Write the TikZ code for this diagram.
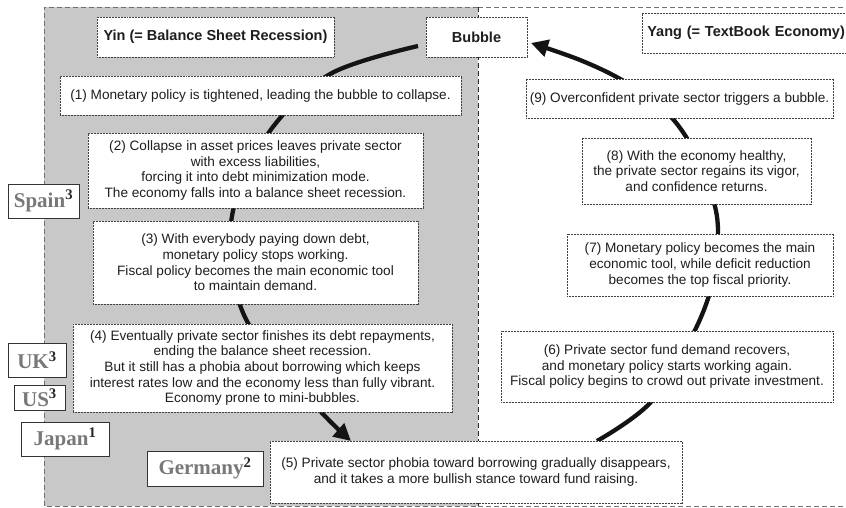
\documentclass[tikz,border=0pt]{standalone}
\usepackage{fontspec}
\setmainfont{Liberation Sans}
\newfontfamily\countryfont{Liberation Serif}
\usetikzlibrary{arrows.meta,backgrounds}
\definecolor{panelgray}{RGB}{200,200,200}
\definecolor{framegray}{RGB}{110,110,110}
\definecolor{txt}{RGB}{30,30,30}
\definecolor{ctry}{RGB}{120,120,120}
\tikzset{
  stepbox/.style={draw=black!75, dash pattern=on 1pt off 0.5pt, line width=0.7pt,
    fill=white, align=center, text=txt, inner sep=0pt,
    font=\fontsize{13.6}{15.6}\selectfont},
  titlebox/.style={stepbox, font=\bfseries\fontsize{14.5}{16}\selectfont},
  country/.style={draw=black!80, solid, line width=0.9pt, fill=white, inner sep=0pt,
    text=ctry, font=\countryfont\bfseries\fontsize{21}{24}\selectfont},
  sup/.style={},
  cyclearc/.style={line width=4.3pt, draw=black!92, line cap=butt},
  frame/.style={draw=framegray, line width=0.9pt, dash pattern=on 5pt off 3pt},
}
\newcommand{\ctrysup}[1]{{\color{black!85}\textsuperscript{#1}}}
\begin{document}
\begin{tikzpicture}[x=1pt,y=-1pt]
\useasboundingbox (0,0) rectangle (846,508);

% title boxes
\node[titlebox, minimum width=237pt, minimum height=40pt] (yin) at (215.5,37) {Yin (= Balance Sheet Recession)};
\node[titlebox, minimum width=101pt, minimum height=40pt] (bubble) at (476.5,37) {Bubble};
\node[titlebox, anchor=west, minimum width=215pt, minimum height=40pt, align=left, inner xsep=5pt, text width=205pt] (yang) at (642,33) {Yang (= TextBook Economy)};

% step boxes
\node[stepbox, minimum width=401pt, minimum height=39pt] (n1) at (260.5,95.5)
  {(1) Monetary policy is tightened, leading the bubble to collapse.};
\node[stepbox, minimum width=335pt, minimum height=75pt] (n2) at (255.5,170.5)
  {(2) Collapse in asset prices leaves private sector\\ with excess liabilities,\\ forcing it into debt minimization mode.\\ The economy falls into a balance sheet recession.};
\node[stepbox, minimum width=325pt, minimum height=83pt] (n3) at (255.5,262.5)
  {(3) With everybody paying down debt,\\ monetary policy stops working.\\ Fiscal policy becomes the main economic tool\\ to maintain demand.};
\node[stepbox, minimum width=379pt, minimum height=88pt] (n4) at (262.5,368)
  {(4) Eventually private sector finishes its debt repayments,\\ ending the balance sheet recession.\\ But it still has a phobia about borrowing which keeps\\ interest rates low and the economy less than fully vibrant.\\ Economy prone to mini-bubbles.};
\node[stepbox, minimum width=412pt, minimum height=62pt] (n5) at (476,472)
  {(5) Private sector phobia toward borrowing gradually disappears,\\ and it takes a more bullish stance toward fund raising.};
\node[stepbox, minimum width=332pt, minimum height=71pt] (n6) at (667,366.5)
  {(6) Private sector fund demand recovers,\\ and monetary policy starts working again.\\ Fiscal policy begins to crowd out private investment.};
\node[stepbox, minimum width=266pt, minimum height=62pt] (n7) at (700,265)
  {(7) Monetary policy becomes the main\\ economic tool, while deficit reduction\\ becomes the top fiscal priority.};
\node[stepbox, minimum width=229pt, minimum height=66pt] (n8) at (696.5,171)
  {(8) With the economy healthy,\\ the private sector regains its vigor,\\ and confidence returns.};
\node[stepbox, minimum width=307pt, minimum height=39pt] (n9) at (679.5,98.5)
  {(9) Overconfident private sector triggers a bubble.};

% country boxes
\node[country, minimum width=71pt, minimum height=34pt] (spain) at (43.5,201) {Spain\ctrysup{3}};
\node[country, minimum width=58pt, minimum height=34pt] (uk) at (37,360) {UK\ctrysup{3}};
\node[country, minimum width=51pt, minimum height=25pt] (us) at (39.5,397.5) {US\ctrysup{3}};
\node[country, minimum width=88pt, minimum height=34pt] (japan) at (65,439) {Japan\ctrysup{1}};
\node[country, minimum width=116pt, minimum height=35pt] (germany) at (205,468.5) {Germany\ctrysup{2}};

% arc end points
\coordinate (startL) at (418,46);
\coordinate (tipL) at (351,441);
\coordinate (startR) at (597,441);
\coordinate (tipR) at (531,43);

\begin{scope}[on background layer]
  \fill[panelgray] (44,7) rectangle (478,506);
  \draw[frame] (478,7) -- (44,7) -- (44,506) -- (478,506);
  \draw[frame, draw=black!55] (478,7) -- (850,7);
  \draw[frame, draw=black!55] (478,506) -- (850,506);
  \draw[frame, draw=black!85] (478,7) -- (478,506);
  \draw[cyclearc, -{Triangle[length=17pt,width=17pt]}]
    plot[smooth, tension=0.6] coordinates {(startL) (332,73) (276,123) (241,185) (230,240) (240,305) (270,355) (322,413) (tipL)};
  \draw[cyclearc, -{Triangle[length=17pt,width=17pt]}]
    plot[smooth, tension=0.6] coordinates {(startR) (650,403) (690,340) (712,285) (718,230) (710,190) (688,140) (660,106) (622,80) (580,60) (tipR)};
\end{scope}
\end{tikzpicture}
\end{document}
